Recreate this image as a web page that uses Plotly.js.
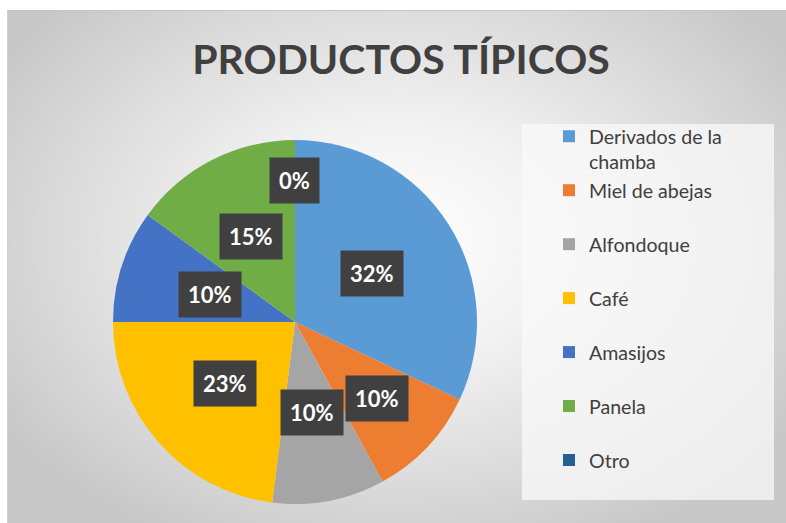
<!DOCTYPE html>
<html>
<head>
<meta charset="utf-8">
<script src="https://cdn.plot.ly/plotly-3.0.1.min.js"></script>
<style>
  html, body { margin: 0; padding: 0; background: #ffffff; }
  #wrap { position: relative; width: 786px; height: 523px; overflow: hidden; }
  #bg { position: absolute; left: 7px; top: 10px; width: 779px; height: 513px;
        border-top: 1px solid #c4c4c4; border-left: 1px solid #d0d0d0;
        background: radial-gradient(ellipse 60% 65% at 50% 45%, #ffffff 0%, #f2f2f2 35%, #d9d9d9 75%, #c8c8c8 100%); }
  #chart { position: absolute; left: 0; top: 0; width: 786px; height: 523px; }
</style>
</head>
<body>
<div id="wrap">
  <div id="bg"></div>
  <div id="chart"></div>
</div>
<script>
// ---- data ----
const categories = ["Derivados de la chamba", "Miel de abejas", "Alfondoque", "Café", "Amasijos", "Panela", "Otro"];
const legendLabels = ["Derivados de la<br>chamba", "Miel de abejas<br>&nbsp;", "Alfondoque<br>&nbsp;", "Café<br>&nbsp;", "Amasijos<br>&nbsp;", "Panela<br>&nbsp;", "Otro<br>&nbsp;"];
const values = [32, 10, 10, 23, 10, 15, 0];
const colors = ["#5B9BD5", "#ED7D31", "#A5A5A5", "#FFC000", "#4472C4", "#70AD47", "#255E91"];

// ---- layout constants ----
const W = 786, H = 523;
const cx = 295, cy = 322, R = 182;
const labelRadius = [0.5, 0.615, 0.505, 0.51, 0.49, 0.53, 0.775];

const total = values.reduce((a, b) => a + b, 0);
const annotations = [];
let cum = 0;
values.forEach((v, i) => {
  const mid = (cum + v / 2) / total * 2 * Math.PI;
  cum += v;
  const r = labelRadius[i] * R;
  const px = cx + r * Math.sin(mid);
  const py = cy - r * Math.cos(mid);
  annotations.push({
    x: px / W, y: 1 - py / H, xref: 'paper', yref: 'paper',
    text: '<b>' + Math.round(v / total * 100) + '%</b>',
    showarrow: false, bgcolor: '#404040', borderpad: 9,
    font: { family: 'Lato, sans-serif', size: 22, color: '#ffffff' },
    xanchor: 'center', yanchor: 'middle'
  });
});

const trace = {
  type: 'pie',
  labels: legendLabels,
  values: values,
  sort: false,
  direction: 'clockwise',
  rotation: 0,
  textinfo: 'none',
  hoverinfo: 'skip',
  marker: { colors: colors, line: { width: 0 } },
  domain: { x: [(cx - R) / W, (cx + R) / W], y: [1 - (cy + R) / H, 1 - (cy - R) / H] }
};

const layout = {
  width: W, height: H,
  margin: { l: 0, r: 0, t: 0, b: 0 },
  paper_bgcolor: 'rgba(0,0,0,0)',
  plot_bgcolor: 'rgba(0,0,0,0)',
  title: {
    text: '<b>PRODUCTOS TÍPICOS</b>',
    font: { family: 'Lato, sans-serif', size: 41, color: '#404040' },
    x: 401 / W, xanchor: 'center', y: 1 - 60 / H, yanchor: 'middle'
  },
  showlegend: true,
  legend: {
    x: 549 / W, xanchor: 'left', y: 1 - 117 / H, yanchor: 'top',
    bgcolor: 'rgba(0,0,0,0)', valign: 'top',
    font: { family: 'Lato, sans-serif', size: 19.6, color: '#404040' }
  },
  shapes: [{
    type: 'rect', xref: 'paper', yref: 'paper', layer: 'below',
    x0: 522 / W, x1: 774 / W, y0: 1 - 500 / H, y1: 1 - 124 / H,
    fillcolor: 'rgba(250,250,250,0.75)', line: { width: 0 }
  }],
  annotations: annotations
};

Plotly.newPlot('chart', [trace], layout, { displayModeBar: false, staticPlot: true });
</script>
</body>
</html>
